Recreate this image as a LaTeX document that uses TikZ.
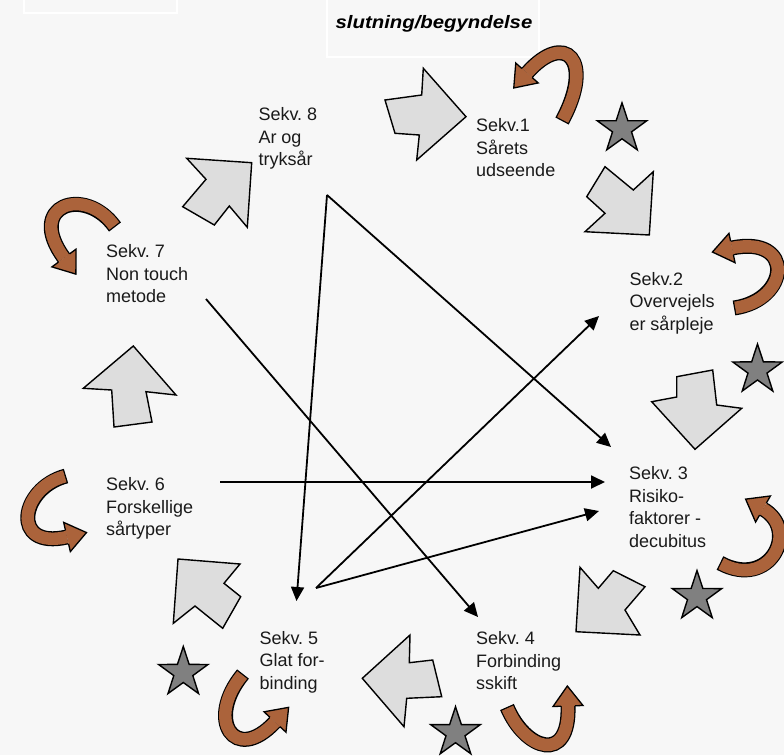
\documentclass[tikz,border=0pt]{standalone}
\usepackage{fontspec}
\setmainfont{Liberation Sans}
\frenchspacing
\usepackage{xcolor}
\definecolor{paperGray}{HTML}{F7F7F7}
\definecolor{blockGray}{HTML}{DDDDDD}
\definecolor{starGray}{HTML}{808080}
\definecolor{ribbonBrown}{HTML}{AB633B}
\definecolor{darkText}{HTML}{1A1A1A}
\usepackage{tikz}
\usetikzlibrary{
    shapes.geometric,
    arrows.meta,
    calc,
    positioning
}
\tikzset{
    % Text of each sequence
    seq text/.style={
        font=\fontsize{18}{22.5}\selectfont,
        align=left,
        text=darkText,
        anchor=north west,
        inner sep=0pt,
    },
    % Gray block arrows round the circle
    block arrow/.style={
        draw=black,
        line width=1.4pt,
        fill=blockGray,
        line join=miter,
    },
    % Gray stars
    gray star/.style={
        star,
        star points=5,
        star point ratio=2.6,
        minimum size=52pt,
        inner sep=0pt,
        draw=black,
        line width=1.4pt,
        fill=starGray,
    },
    % Black links across the circle
    link/.style={
        -{Triangle[length=14pt, width=13pt]},
        line width=1.8pt,
        draw=black,
    },
    % White frames at the top
    frame box/.style={
        draw=white,
        line width=2pt,
    },
}

% Brown turning arrow: start, control, control, end of its middle line
\newcommand{\turnarrow}[4]{%
    \draw[black, line width=15pt] #1 .. controls #2 and #3 .. #4;
    \draw[ribbonBrown, line width=12.4pt, shorten <=1.3pt] #1 .. controls #2 and #3 .. #4;
    \fill[ribbonBrown] ($#4!6.3pt!90:#3$) -- ($#4!15pt!90:#3$) -- ($#4!-20pt!#3$)
        -- ($#4!15pt!-90:#3$) -- ($#4!6.3pt!-90:#3$) -- cycle;
    \draw[black, line width=1.3pt, line join=miter] ($#4!6.9pt!90:#3$) -- ($#4!15pt!90:#3$)
        -- ($#4!-20pt!#3$) -- ($#4!15pt!-90:#3$) -- ($#4!6.9pt!-90:#3$);
}

\begin{document}
\begin{tikzpicture}[x=1pt, y=-1pt]
    \fill[paperGray] (0,0) rectangle (784,755);
    \useasboundingbox (0,0) rectangle (784,755);

    % frames at the top
    \draw[frame box] (24,-5) rectangle (177,12.7);
    \draw[frame box] (327,-5) rectangle (539,57);
    \node (title) [anchor=base, inner sep=0pt] at (434,28.3)
        {\scalebox{1.13}[1]{\fontsize{18}{22}\selectfont\bfseries\itshape slutning/begyndelse}};

    % gray block arrows
    \draw[block arrow] (385,100) -- (421.7,95) -- (423.3,68.3) -- (466,116.7) -- (416.7,160) -- (419.3,135) -- (395,133.3) -- cycle;
    \draw[block arrow] (605,166.7) -- (633.3,190) -- (653.3,171.7) -- (649.3,235) -- (585,231.7) -- (605,213.3) -- (586.7,196.7) -- cycle;
    \draw[block arrow] (676.7,376.7) -- (712.7,370) -- (716.7,405) -- (741.7,408.3) -- (695,449.3) -- (651.7,401.7) -- (676.7,397) -- cycle;
    \draw[block arrow] (580,567.3) -- (598.3,588.3) -- (613.3,570.7) -- (645,586.7) -- (625,610) -- (640,635) -- (576,631.7) -- cycle;
    \draw[block arrow] (362.3,678.3) -- (410,635) -- (409.3,662.7) -- (432.7,660) -- (441.7,696.7) -- (406.7,698.3) -- (404,726.7) -- cycle;
    \draw[block arrow] (178,559) -- (240,564) -- (224,583.3) -- (240.7,596.7) -- (222.7,628.3) -- (195,606) -- (173.3,623.3) -- cycle;
    \draw[block arrow] (133.3,346) -- (176,395) -- (146,391.7) -- (152,422) -- (114,427) -- (111.7,390) -- (83.3,388.3) -- cycle;
    \draw[block arrow] (186.7,158.3) -- (251.7,162.7) -- (247.3,227.3) -- (229.3,206) -- (214.3,225) -- (182.7,206.7) -- (206,179.3) -- cycle;

    % stars
    \node (star1) [gray star] at (622,128.8) {};
    \node (star2) [gray star] at (757.5,370) {};
    \node (star3) [gray star] at (697,596.6) {};
    \node (star4) [gray star] at (455.5,732.7) {};
    \node (star5) [gray star] at (183.3,672.5) {};

    % brown turning arrows
    \turnarrow{(562,121)}{(595,60)}{(565,30)}{(527,73)}
    \turnarrow{(734,308)}{(790,300)}{(795,235)}{(732,248)}
    \turnarrow{(720,563)}{(770,590)}{(800,530)}{(763,509)}
    \turnarrow{(507,707)}{(525,750)}{(570,765)}{(568,706)}
    \turnarrow{(243,674)}{(205,720)}{(235,765)}{(275,722)}
    \turnarrow{(66,476)}{(20,488)}{(10,550)}{(67,537)}
    \turnarrow{(115,227)}{(85,185)}{(25,205)}{(64,258)}

    % sequences
    \node (sekv1) [seq text] at (476,118.7) {Sekv.1\\Sårets\\udseende};
    \node (sekv2) [seq text] at (629.3,272) {Sekv.2\\Overvejels\\er sårpleje};
    \node (sekv3) [seq text] at (629,466.3) {Sekv. 3\\Risiko-\\faktorer -\\decubitus};
    \node (sekv4) [seq text] at (476,631.3) {Sekv. 4\\Forbinding\\sskift};
    \node (sekv5) [seq text] at (259.3,631) {Sekv. 5\\Glat for-\\binding};
    \node (sekv6) [seq text] at (106,477.7) {Sekv. 6\\Forskellige\\sårtyper};
    \node (sekv7) [seq text] at (106,244.3) {Sekv. 7\\Non touch\\metode};
    \node (sekv8) [seq text] at (258.3,107.7) {Sekv. 8\\Ar og\\tryksår};

    % link ends
    \coordinate (apex8) at (327,195);
    \coordinate (from7) at (206,299);
    \coordinate (from6) at (220,482);
    \coordinate (apex5) at (316,588);
    \coordinate (in2) at (599,316);
    \coordinate (in3a) at (611,447);
    \coordinate (in3b) at (605,482);
    \coordinate (in3c) at (599,511);
    \coordinate (in4) at (478,617);
    \coordinate (in5) at (296.5,601);

    \draw[link] (apex8) -- (in3a);
    \draw[link] (apex8) -- (in5);
    \draw[link] (from7) -- (in4);
    \draw[link] (from6) -- (in3b);
    \draw[link] (apex5) -- (in2);
    \draw[link] (apex5) -- (in3c);
\end{tikzpicture}
\end{document}
